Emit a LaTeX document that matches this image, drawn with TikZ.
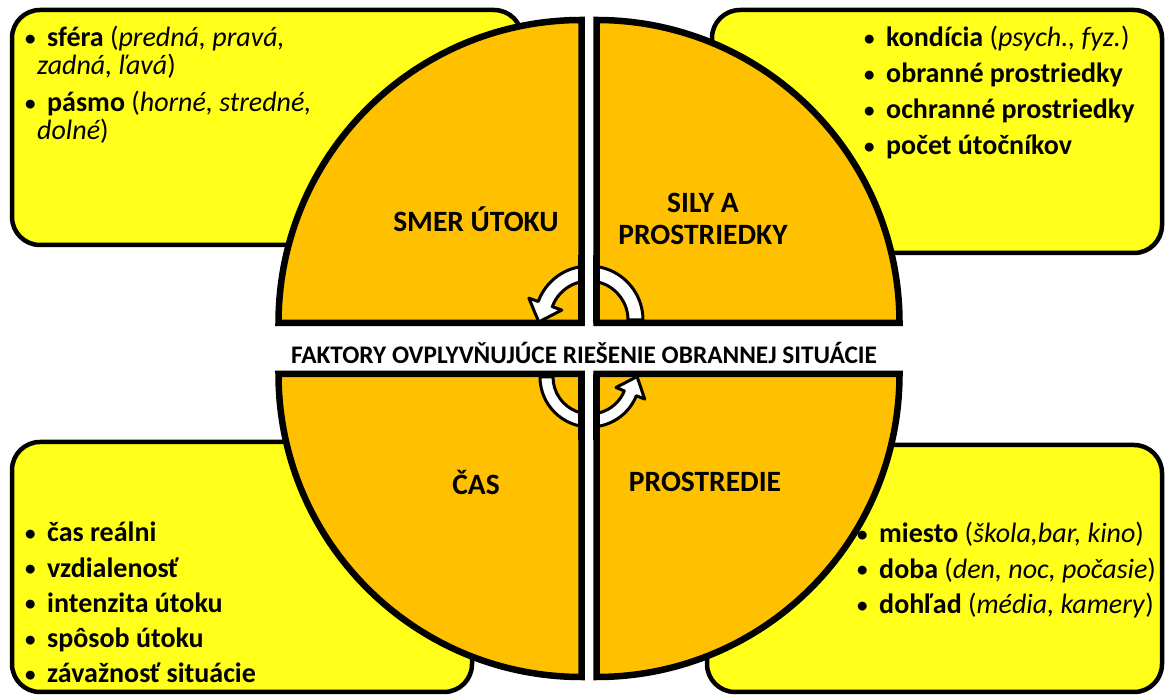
\documentclass[tikz,border=0pt]{standalone}
\usepackage{fontspec}
\usepackage{graphicx}
\setmainfont{Carlito}
\usetikzlibrary{calc,shadows}
\definecolor{boxyellow}{RGB}{255,255,26}
\definecolor{sectorgold}{RGB}{255,192,0}
\newcommand{\bitem}{\makebox[22pt][l]{\raisebox{1.5pt}{\scalebox{0.75}{•}}}}
\tikzset{
  factorbox/.style={draw=black, line width=4.5pt, fill=boxyellow, rounded corners=28pt,
    drop shadow={shadow xshift=2pt, shadow yshift=-2pt, opacity=0.3}},
  sector/.style={draw=black, line width=6.5pt, fill=sectorgold, line join=miter,
    drop shadow={shadow xshift=2pt, shadow yshift=-2pt, opacity=0.25}},
  sectoredge/.style={draw=black, line width=6.5pt},
  turnarrow/.style={draw=black, line width=3pt, fill=white, line join=round},
  itemtext/.style={anchor=base west, inner sep=0pt, font=\fontsize{28}{34}\selectfont\bfseries},
  sectorlabel/.style={align=center, inner sep=0pt, font=\fontsize{29.5}{32}\selectfont\bfseries},
  centerlabel/.style={inner sep=0pt, font=\fontsize{25.3}{30}\selectfont\bfseries}
}
\begin{document}
\begin{tikzpicture}[x=1pt,y=1pt]
  \useasboundingbox (0,0) rectangle (1166,695);
  % yellow boxes
  \draw[factorbox] (12,450) rectangle (522,685);
  \draw[factorbox] (712,442) rectangle (1162,685);
  \draw[factorbox] (12,3) rectangle (472,253);
  \draw[factorbox] (707,3) rectangle (1162,250);
  % quarters
  \draw[sector] (581.5,372) -- (278.5,372) arc[start angle=180, end angle=90, radius=303] -- cycle;
  \draw[sector] (596.5,372) -- (596.5,675) arc[start angle=90, end angle=0, radius=303] -- cycle;
  \draw[sector] (581.5,321) -- (278.5,321) arc[start angle=180, end angle=270, radius=303] -- cycle;
  \draw[sector] (596.5,321) -- (596.5,18) arc[start angle=270, end angle=360, radius=303] -- cycle;
  % turning arrows
  \coordinate (topturn) at (589,375);
  \coordinate (bottomturn) at (590,318);
  \draw[turnarrow] ($(topturn)+(0:54)$) arc[start angle=0, end angle=160, radius=54]
    -- ($(topturn)+(160:64)$) -- ($(topturn)+(160:46.5)+(250:19)$)
    -- ($(topturn)+(160:29)$) -- ($(topturn)+(160:39)$)
    arc[start angle=160, end angle=0, radius=39] -- cycle;
  \draw[turnarrow] ($(bottomturn)+(180:50)$) arc[start angle=180, end angle=338, radius=50]
    -- ($(bottomturn)+(338:59)$) -- ($(bottomturn)+(338:43.5)+(68:18)$)
    -- ($(bottomturn)+(338:28)$) -- ($(bottomturn)+(338:37)$)
    arc[start angle=338, end angle=180, radius=37] -- cycle;
  % gap over the arrows
  \fill[white] (584.75,372) rectangle (593.25,440);
  \fill[white] (584.75,321) rectangle (593.25,255);
  \draw[sectoredge] (581.5,372) -- (581.5,440);
  \draw[sectoredge] (596.5,372) -- (596.5,440);
  \draw[sectoredge] (581.5,321) -- (581.5,255);
  \draw[sectoredge] (596.5,321) -- (596.5,255);
  % labels
  \node[centerlabel] (factors) at (584,342) {FAKTORY OVPLYVŇUJÚCE RIEŠENIE OBRANNEJ SITUÁCIE};
  \node[sectorlabel] (smer) at (476,476) {SMER ÚTOKU};
  \node[sectorlabel] (sily) at (703,476) {SILY A\\PROSTRIEDKY};
  \node[sectorlabel] (cas) at (476,213) {ČAS};
  \node[sectorlabel] (prostredie) at (705,213) {PROSTREDIE};
  % box texts
  \node[itemtext] (smer1) at (25,648) {\bitem sféra \textmd{(\textit{predná, pravá,}}};
  \node[itemtext] (smer2) at (37,620) {\textmd{\textit{zadná, ľavá})}};
  \node[itemtext] (smer3) at (25,583) {\bitem pásmo \textmd{(\textit{horné, stredné,}}};
  \node[itemtext] (smer4) at (37,555) {\textmd{\textit{dolné})}};
  \foreach \entry [count=\i] in {{kondícia \textmd{(\textit{psych., fyz.})}},
      obranné prostriedky, ochranné prostriedky, počet útočníkov}
    \node[itemtext] (sila\i) at (864,684-36*\i) {\bitem \entry};
  \foreach \entry [count=\i] in {čas reálni, vzdialenosť, intenzita útoku,
      spôsob útoku, závažnosť situácie}
    \node[itemtext] (cas\i) at (25,188.5-35.3*\i) {\bitem \entry};
  \foreach \entry [count=\i] in {{miesto \textmd{(\textit{škola,bar, kino})}},
      {doba \textmd{(\textit{den, noc, počasie})}},
      {dohľad \textmd{(\textit{média, kamery})}}}
    \node[itemtext] (miesto\i) at (857,187.5-35.5*\i) {\bitem \entry};
\end{tikzpicture}
\end{document}
